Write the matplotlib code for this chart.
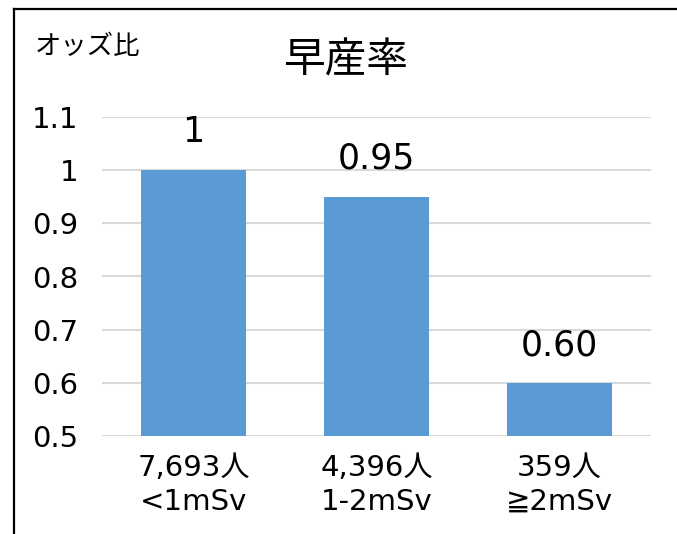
import matplotlib
matplotlib.use("Agg")
import matplotlib.pyplot as plt
from matplotlib.lines import Line2D

plt.rcParams['font.family'] = ['DejaVu Sans', 'Noto Sans CJK JP']

# data
categories = ['7,693人\n<1mSv', '4,396人\n1-2mSv', '359人\n≧2mSv']
odds = [1.0, 0.95, 0.60]
value_labels = ['1', '0.95', '0.60']
yticks = [0.5, 0.6, 0.7, 0.8, 0.9, 1.0, 1.1]
ytick_labels = ['0.5', '0.6', '0.7', '0.8', '0.9', '1', '1.1']

bar_color = '#5B9BD5'
grid_color = '#D9D9D9'

W, H = 677, 534
fig = plt.figure(figsize=(W / 100, H / 100), dpi=100)

# plot area in pixels: x 102..651, y 117..436
ax = fig.add_axes([102 / W, 1 - 436 / H, (651 - 102) / W, (436 - 117) / H])

x = range(len(categories))
ax.bar(x, odds, width=0.57, color=bar_color, zorder=2)

for xi, v, lab in zip(x, odds, value_labels):
    ax.annotate(lab, (xi, v), xytext=(0, 20), textcoords='offset points',
                ha='center', va='baseline', fontsize=25, color='black')

ax.set_xlim(-0.5, len(categories) - 0.5)
ax.set_ylim(0.5, 1.1)
ax.set_yticks(yticks, ytick_labels, fontsize=21)
ax.set_xticks(list(x), categories, fontsize=21, linespacing=1.25)
ax.tick_params(axis='both', length=0)
ax.tick_params(axis='y', pad=17)
ax.tick_params(axis='x', pad=13)

for s in ax.spines.values():
    s.set_visible(False)
ax.yaxis.grid(True, color=grid_color, linewidth=1.5, zorder=0)
ax.set_axisbelow(True)

fig.text(345 / W, 1 - 60 / H, '早産率', ha='center', va='center', fontsize=30)
fig.text(35 / W, 1 - 47 / H, 'オッズ比', ha='left', va='center', fontsize=19)

# outer frame (left and top edges visible)
fig.add_artist(Line2D([14 / W, 14 / W], [0, 1 - 9 / H], transform=fig.transFigure,
                      color='black', linewidth=1.6))
fig.add_artist(Line2D([14 / W, 1], [1 - 9 / H, 1 - 9 / H], transform=fig.transFigure,
                      color='black', linewidth=1.6))

fig.savefig('out.png', dpi=100)
